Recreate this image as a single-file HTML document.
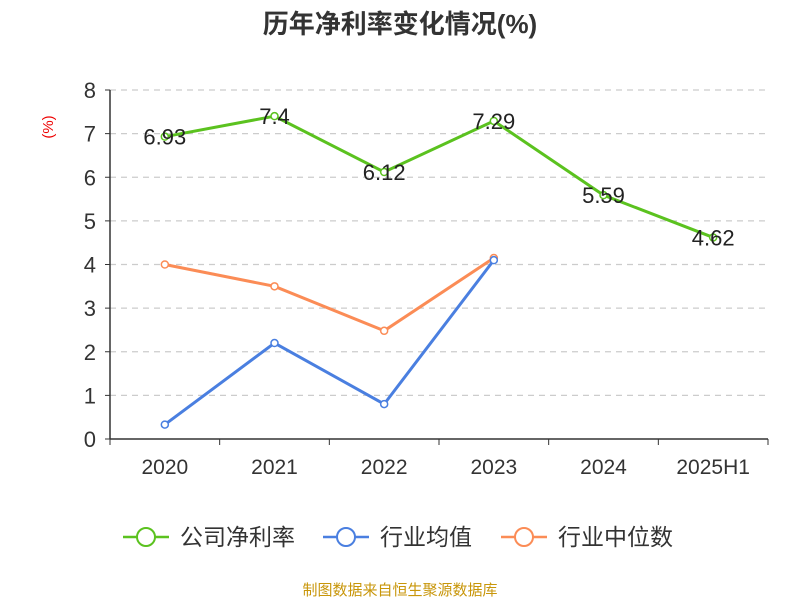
<!DOCTYPE html>
<html><head><meta charset="utf-8"><style>
body{margin:0;background:#fff;font-family:"Liberation Sans","Noto Sans CJK SC",sans-serif;}
</style></head><body>
<svg width="800" height="600" xmlns="http://www.w3.org/2000/svg" id="chart" font-family="Liberation Sans, Noto Sans CJK SC, sans-serif">
<text x="400" y="33" text-anchor="middle" font-size="26" font-weight="bold" fill="#333">历年净利率变化情况(%)</text>
<text transform="translate(53,127) rotate(-90)" text-anchor="middle" font-size="15" fill="#e00">(%)</text>
<g id="grid"></g><g id="axes"></g><g id="series"></g>
<g>
<g><line x1="123" y1="537" x2="169" y2="537" stroke="#5bc21f" stroke-width="2.5"/><circle cx="146" cy="537" r="9" fill="#fff" stroke="#5bc21f" stroke-width="2"/><text x="180" y="545" font-size="23" fill="#333">公司净利率</text></g>
<g><line x1="323" y1="537" x2="369" y2="537" stroke="#4a7fe0" stroke-width="2.5"/><circle cx="346" cy="537" r="9" fill="#fff" stroke="#4a7fe0" stroke-width="2"/><text x="380" y="545" font-size="23" fill="#333">行业均值</text></g>
<g><line x1="501" y1="537" x2="547" y2="537" stroke="#fb8c56" stroke-width="2.5"/><circle cx="524" cy="537" r="9" fill="#fff" stroke="#fb8c56" stroke-width="2"/><text x="558" y="545" font-size="23" fill="#333">行业中位数</text></g>
</g>
<text x="400" y="595" text-anchor="middle" font-size="15" fill="#c8960a">制图数据来自恒生聚源数据库</text>
</svg>
<script>
const categories=["2020","2021","2022","2023","2024","2025H1"];
const companyValues=[6.93,7.4,6.12,7.29,5.59,4.62];
const industryAvg=[0.33,2.2,0.8,4.1];
const industryMedian=[4.0,3.5,2.48,4.15];
const yTicks=[0,1,2,3,4,5,6,7,8];
const NS="http://www.w3.org/2000/svg";
const x0=110,x1=768,y0=439,yTop=90,yMax=8;
const bw=(x1-x0)/categories.length;
const X=i=>x0+bw*(i+0.5);
const Y=v=>y0-(v/yMax)*(y0-yTop);
function mk(tag,attrs,parent){const e=document.createElementNS(NS,tag);for(const k in attrs)e.setAttribute(k,attrs[k]);parent.appendChild(e);return e;}
const grid=document.getElementById('grid'),axes=document.getElementById('axes'),ser=document.getElementById('series');
yTicks.forEach(t=>{
 if(t>0){const g=mk('line',{x1:x0,x2:x1,y1:Y(t),y2:Y(t),stroke:'#ccc','stroke-dasharray':'6,5','stroke-width':1.2},grid);
 
 }
 const tk=mk('line',{x1:x0-5,x2:x0,y1:Y(t),y2:Y(t),stroke:'#333'},axes);
 
 
 const l=mk('text',{x:x0-14,y:Y(t)+8,'text-anchor':'end','font-size':22,fill:'#333'},axes);l.textContent=t;
 
 
});
const ya=mk('line',{x1:x0,x2:x0,y1:yTop,y2:y0,stroke:'#333','stroke-width':1.5},axes);


const xa=mk('line',{x1:x0,x2:x1,y1:y0,y2:y0,stroke:'#333','stroke-width':1.5},axes);


for(let i=0;i<=categories.length;i++){const t=mk('line',{x1:x0+bw*i,x2:x0+bw*i,y1:y0,y2:y0+6,stroke:'#333'},axes);
 
 }
categories.forEach((c,i)=>{const l=mk('text',{x:X(i),y:y0+35,'text-anchor':'middle','font-size':21,fill:'#333'},axes);l.textContent=c;
 
 });
function series(vals,color,name,labels){
 const p=mk('polyline',{points:vals.map((v,i)=>X(i)+','+Y(v)).join(' '),fill:'none',stroke:color,'stroke-width':3},ser);
 
 
 vals.forEach((v,i)=>{const c=mk('circle',{cx:X(i),cy:Y(v),r:3.5,fill:'#fff',stroke:color,'stroke-width':1.5},ser);
  
  
  if(labels){const t=mk('text',{x:X(i),y:Y(v)+8,'text-anchor':'middle','font-size':22,fill:'#222'},ser);t.textContent=v;
   
   }
 });
}
series(industryMedian,'#fb8c56','industry-median',false);
series(industryAvg,'#4a7fe0','industry-average',false);
series(companyValues,'#5bc21f','company-net-margin',true);
</script>
</body></html>
